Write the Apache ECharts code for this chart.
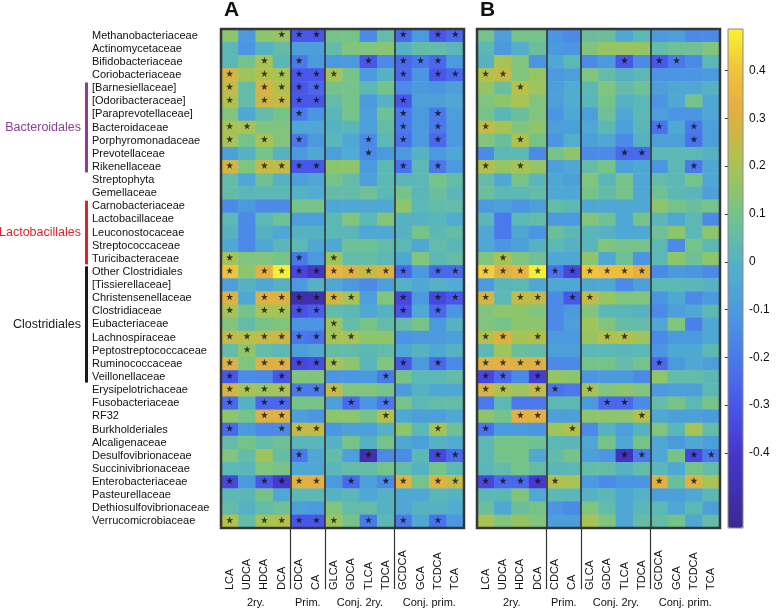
<!DOCTYPE html>
<html><head><meta charset="utf-8">
<script src="https://cdn.jsdelivr.net/npm/echarts@6/dist/echarts.min.js"></script>
<style>html,body{margin:0;padding:0;background:#fff}#c{width:777px;height:610px}</style>
</head><body><div id="c"></div>
<script>
const rowNames = ['Methanobacteriaceae','Actinomycetaceae','Bifidobacteriaceae','Coriobacteriaceae','[Barnesiellaceae]','[Odoribacteraceae]','[Paraprevotellaceae]','Bacteroidaceae','Porphyromonadaceae','Prevotellaceae','Rikenellaceae','Streptophyta','Gemellaceae','Carnobacteriaceae','Lactobacillaceae','Leuconostocaceae','Streptococcaceae','Turicibacteraceae','Other Clostridiales','[Tissierellaceae]','Christensenellaceae','Clostridiaceae','Eubacteriaceae','Lachnospiraceae','Peptostreptococcaceae','Ruminococcaceae','Veillonellaceae','Erysipelotrichaceae','Fusobacteriaceae','RF32','Burkholderiales','Alcaligenaceae','Desulfovibrionaceae','Succinivibrionaceae','Enterobacteriaceae','Pasteurellaceae','Dethiosulfovibrionaceae','Verrucomicrobiaceae'];
const colNames = ['LCA','UDCA','HDCA','DCA','CDCA','CA','GLCA','GDCA','TLCA','TDCA','GCDCA','GCA','TCDCA','TCA'];
const groupNames = ['2ry.','Prim.','Conj. 2ry.','Conj. prim.'];
const groupSizes = [4,2,4,4];
const panelTitles = ['A','B'];
const taxonGroups = ['Bacteroidales','Lactobacillales','Clostridiales'];
const taxonFirst = ['[Barnesiellaceae]','Carnobacteriaceae','Other Clostridiales'];
const taxonLast = ['Rikenellaceae','Turicibacteraceae','Veillonellaceae'];
const taxonColors = ['#8d3c97','#d8262f','#1a1a1a'];
const colorbarTicks = [-0.4,-0.3,-0.2,-0.1,0,0.1,0.2,0.3,0.4];
const valueMin = -0.557, valueMax = 0.487;

const valuesA = [
[0.15,-0.1,0.15,0.17,-0.3,-0.3,0.1,0.1,-0.15,0.05,-0.25,-0.1,-0.3,-0.25],
[0.03,-0.12,0,0.05,-0.08,-0.08,0.05,0.12,0.12,0.14,0,0.05,0.05,0.02],
[0.03,0.1,0.2,0.02,-0.2,-0.1,-0.1,-0.1,-0.3,-0.15,-0.25,-0.2,-0.25,-0.1],
[0.28,0.18,0.22,0.2,-0.3,-0.3,0.2,0.1,-0.1,0,-0.25,-0.12,-0.3,-0.25],
[0.25,0.05,0.28,0.22,-0.3,-0.25,0.1,0.1,0.03,0.1,-0.15,-0.1,-0.12,-0.08],
[0.22,0.05,0.27,0.25,-0.3,-0.3,0.05,0.1,-0.1,0,-0.3,-0.08,-0.08,-0.05],
[0.12,-0.05,0.05,0.1,-0.2,-0.12,0.02,0.1,-0.08,0.08,-0.2,-0.1,-0.2,-0.08],
[0.2,0.2,0.12,0.12,-0.05,-0.05,0,0.02,-0.08,0.05,-0.2,-0.1,-0.2,-0.1],
[0.2,0.1,0.2,0.12,-0.2,-0.1,0.02,-0.05,-0.15,0.03,-0.22,-0.1,-0.25,-0.1],
[-0.08,0,0.1,0,-0.1,-0.05,-0.08,-0.03,-0.15,-0.1,-0.1,0,-0.1,-0.05],
[0.28,0.12,0.25,0.25,-0.3,-0.3,0.15,0.15,-0.1,0.03,-0.22,0.03,-0.2,-0.1],
[0.05,-0.05,0.08,0,-0.08,-0.05,0.1,0.05,-0.08,0.03,0.02,0.03,0.1,0.05],
[0.05,0.02,0.03,0.03,0,-0.03,0.05,0.05,0.08,0.03,0.1,0.02,0.07,0.02],
[-0.15,-0.1,-0.15,-0.15,0.1,0.1,-0.05,-0.05,-0.05,-0.05,0.15,0.03,0.05,0.05],
[0.03,-0.15,0.03,0.08,-0.08,-0.08,0.03,0.12,0.03,0.13,0,0,0.02,-0.03],
[0,-0.15,0,-0.05,0,0,0.03,0.02,-0.05,-0.05,0,0.1,0.03,0.05],
[-0.05,-0.15,-0.05,0.02,0.03,-0.05,-0.05,0.08,0.08,0.05,0.03,-0.05,0.05,0.02],
[0.2,0.12,0.12,0.1,-0.2,-0.1,0.18,0.05,0.05,0.03,-0.05,0.12,0.03,0.05],
[0.4,0.15,0.32,0.48,-0.35,-0.42,0.35,0.3,0.25,0.3,-0.25,-0.1,-0.25,-0.25],
[-0.08,0,-0.05,0,-0.1,0,-0.05,-0.1,-0.15,-0.08,0,-0.05,0,-0.03],
[0.3,-0.05,0.3,0.3,-0.5,-0.48,0.28,0.2,-0.08,0.12,-0.35,-0.1,-0.35,-0.3],
[0.2,0.1,0.2,0.2,-0.32,-0.28,0.05,0.03,-0.05,0,-0.3,-0.05,-0.25,-0.12],
[0.12,0.05,0.1,0.12,-0.12,-0.12,0.18,0.05,0.1,0.05,0.05,0.1,-0.1,0],
[0.25,0.23,0.25,0.27,-0.2,-0.22,0.2,0.2,0.15,0.15,-0.12,-0.1,-0.1,-0.08],
[0.05,0.15,0.05,0.03,-0.08,-0.05,0.05,0.05,0.03,0.05,-0.05,0,-0.05,0],
[0.3,0.12,0.3,0.3,-0.35,-0.33,0.2,0.15,0.02,0.12,-0.3,-0.1,-0.25,-0.15],
[-0.3,-0.15,-0.15,-0.3,0.12,0.12,-0.12,-0.12,-0.1,-0.2,0.1,0.03,0.03,0.05],
[0.28,0.2,0.18,0.2,-0.2,-0.2,0.25,0.12,0.12,0.1,-0.1,0,-0.05,-0.05],
[-0.25,0,-0.25,-0.25,0.1,0.1,-0.08,-0.25,-0.12,-0.2,0.1,0.03,0.05,0.05],
[0.15,0.1,0.3,0.3,-0.08,-0.12,0.15,0.15,0.1,0.22,-0.05,-0.08,-0.08,-0.05],
[-0.25,-0.1,-0.15,-0.15,0.25,0.25,-0.12,-0.08,-0.08,0,0.15,0.03,0.2,0.08],
[0.05,0.1,0.05,0.08,0.02,0.02,0,0.1,0,0.1,-0.05,-0.08,0,-0.03],
[0.12,0.05,0.18,0.05,-0.2,-0.05,0.05,-0.08,-0.48,-0.15,-0.15,0.03,-0.35,-0.25],
[0.03,0.02,0.12,0.1,-0.05,-0.05,0.02,0.05,0.05,0.1,0.05,0,0.1,0.03],
[-0.35,-0.1,-0.3,-0.4,0.3,0.32,-0.1,-0.25,-0.08,-0.15,0.3,0.1,0.3,0.25],
[0.03,0.02,0.1,-0.05,0.03,0.03,0,0.02,-0.05,0,-0.05,-0.05,0.02,0],
[0.05,0,0.05,0.08,-0.08,-0.1,0.12,0.05,0.05,0,-0.05,0,0,-0.03],
[0.22,0.05,0.2,0.22,-0.3,-0.3,0.18,0.1,-0.2,0.03,-0.2,-0.05,-0.22,-0.1]
];
const valuesB = [
[0.1,-0.08,0.1,0.1,-0.12,-0.15,0.07,0.07,-0.05,0.03,-0.1,-0.08,-0.15,-0.15],
[0.03,-0.1,-0.02,0.07,-0.1,-0.12,0.12,0.17,0.17,0.17,0.05,0.08,0.08,0.12],
[0,0.2,0.12,-0.12,-0.05,0.03,-0.15,-0.1,-0.3,-0.15,-0.3,-0.2,-0.15,0.03],
[0.22,0.25,0.12,0.17,-0.1,-0.08,0.12,0.05,0,0.03,-0.12,-0.12,-0.12,-0.1],
[0.17,0.07,0.23,0.18,-0.08,-0.03,0.03,0.12,0.05,0.08,-0.08,-0.05,-0.05,0],
[0.12,0.15,0.2,0.12,-0.08,-0.03,0.02,0.1,0,0.03,-0.12,-0.05,0.1,-0.05],
[0.1,0.02,0.07,0.12,-0.12,-0.05,-0.08,0.08,-0.05,0.03,-0.08,-0.12,-0.12,-0.05],
[0.25,0.2,0.12,0.15,-0.08,-0.08,-0.05,0.03,-0.08,0.02,-0.22,-0.05,-0.2,-0.08],
[0.12,0.07,0.22,0.1,-0.12,-0.02,-0.08,-0.05,-0.15,0,-0.08,-0.08,-0.22,-0.08],
[-0.15,0.03,0.03,-0.15,0.1,0.15,-0.15,-0.15,-0.25,-0.25,0.03,0.03,0.03,0],
[0.22,0.17,0.2,0.17,-0.08,-0.05,0.05,0.1,-0.08,-0.05,-0.12,0.03,-0.2,-0.05],
[0.05,-0.05,0.1,0.02,-0.05,-0.08,0.12,0.02,0.1,-0.05,0.05,0.03,0.1,-0.05],
[0.07,0.03,0.03,0.05,-0.05,-0.05,0.1,0.05,0.1,-0.05,0.08,0.03,0.02,-0.08],
[-0.1,-0.08,-0.12,-0.08,0.05,0.03,-0.05,-0.05,-0.05,-0.05,0.15,0.1,0.07,0.1],
[0.02,-0.2,0.03,0.05,-0.1,-0.1,0.12,0.08,-0.05,0.1,0.02,-0.05,0.03,-0.15],
[-0.05,-0.2,-0.05,-0.12,0.07,0.03,0.02,0,-0.05,-0.05,0.08,0.15,0.03,0.15],
[-0.05,-0.12,-0.08,0,0.03,0,0.02,0.12,0.1,0.1,0.03,-0.15,0.1,0.03],
[0.12,0.2,0.12,0.08,-0.05,-0.05,0.15,-0.05,0.08,-0.12,0.03,0.15,0.08,0.15],
[0.42,0.3,0.35,0.48,-0.22,-0.35,0.4,0.38,0.38,0.32,-0.15,-0.1,-0.12,-0.15],
[-0.1,0.02,0.03,-0.05,-0.05,-0.05,-0.05,-0.05,-0.15,-0.08,0.03,0.03,0.02,0],
[0.28,0.03,0.25,0.25,-0.15,-0.3,0.25,0.17,0.12,0.12,-0.12,-0.05,-0.15,-0.1],
[0.12,0.15,0.15,0.12,-0.15,-0.1,0.12,0.03,0.02,0,-0.15,-0.08,-0.05,0.03],
[0.12,0.1,0.15,0.15,-0.15,-0.08,0.18,0.12,0.05,0.05,-0.05,0.12,-0.18,-0.05],
[0.22,0.3,0.2,0.22,-0.1,-0.1,0.17,0.22,0.22,0.18,-0.15,-0.1,-0.1,-0.05],
[0.03,0.18,0.07,0.05,-0.08,-0.08,0.03,0.03,0.02,0.03,-0.12,-0.05,-0.05,0.03],
[0.3,0.32,0.3,0.3,-0.15,-0.15,0.1,0.1,0.05,0.1,-0.25,-0.1,-0.05,-0.08],
[-0.35,-0.25,-0.15,-0.38,0.17,0.15,-0.12,-0.1,-0.1,-0.15,0.15,0.05,0.05,0.03],
[0.28,0.22,0.18,0.25,-0.22,-0.2,0.2,0.12,0.15,0.12,-0.1,-0.08,-0.08,0.03],
[-0.2,0.03,-0.2,-0.2,0.03,0.03,-0.1,-0.25,-0.25,-0.15,0.05,0.1,0.03,0.1],
[0.15,0.1,0.32,0.32,-0.08,-0.08,0.15,0.15,0.15,0.22,-0.05,-0.08,-0.08,-0.1],
[-0.22,-0.1,-0.1,-0.12,0.18,0.22,-0.15,0,-0.08,0,0.12,0.02,0.2,0.05],
[0.03,0.1,0.1,0.08,0.03,0.02,-0.05,0.1,-0.05,0.1,-0.05,-0.1,-0.05,-0.08],
[0.03,0.1,0.1,-0.05,0.05,0.1,-0.08,-0.12,-0.45,-0.2,-0.05,0.1,-0.35,-0.2],
[0.02,0.05,0.1,0.05,0.02,0.03,0.05,0.05,0,0.05,0.02,-0.05,0.1,0.05],
[-0.35,-0.25,-0.25,-0.4,0.22,0.2,-0.1,-0.15,-0.12,-0.12,0.3,0.07,0.3,0.2],
[0.03,0.03,0.12,-0.05,0.03,0.02,0,0.03,-0.05,0,-0.08,-0.08,-0.05,0.03],
[0.07,-0.05,0.07,0.1,-0.12,-0.15,0.12,0.05,-0.05,0.02,0.03,-0.05,0.03,-0.08],
[0.2,0.12,0.17,0.12,-0.08,-0.08,0.2,0.12,-0.05,0.05,0.05,0.1,-0.05,0.05]
];
// significant cells: column indices per row
const sigA = [
[3,4,5,10,12,13],[],[2,4,8,10,11,12],[0,2,3,4,5,6,10,12,13],[0,2,3,4,5],[0,2,3,4,5,10],[4,10,12],[0,1,10,12],[0,2,4,8,10,12],[8],
[0,2,3,4,5,10,12],[],[],[],[],[],[],[0,4,6],[0,2,3,4,5,6,7,8,9,10,12,13],[],
[0,2,3,4,5,6,7,10,12,13],[0,2,3,4,5,10,12],[6],[0,1,2,3,4,5,6,7],[1],[0,2,3,4,5,6,10,12],[0,3,9],[0,1,2,3,4,5,6],[0,2,3,7,9],[2,3,9],
[0,3,4,5,12],[],[4,8,12,13],[],[0,2,3,4,5,7,9,10,12,13],[],[],[0,2,3,4,5,6,8,10,12]
];
const sigB = [
[],[],[8,10,11],[0,1],[2],[],[],[0,10,12],[2,12],[8,9],
[0,2,12],[],[],[],[],[],[],[1],[0,1,2,3,4,5,6,7,8,9],[],
[0,2,3,5,6],[],[],[0,1,3,7,8],[],[0,1,2,3,10],[0,1,3],[0,1,3,4,6],[7,8],[2,3,9],
[0,5],[],[8,9,12,13],[],[0,1,2,3,4,10,12],[],[],[]
];

// colormap (parula-like, as in the picture)
const cmapStops = [
[-0.557,'#3b2b8f'],[-0.47,'#4131b5'],[-0.40,'#4637cd'],[-0.32,'#4850e6'],[-0.22,'#4a72ee'],
[-0.12,'#4b95e2'],[-0.03,'#50acd0'],[0.03,'#5cb8b4'],[0.10,'#76c38a'],[0.16,'#92c566'],
[0.22,'#b2c24c'],[0.28,'#d4b442'],[0.33,'#e9ae42'],[0.40,'#f1c33a'],[0.487,'#f8f42e']
];
function hex2rgb(h){return [1,3,5].map(i=>parseInt(h.substr(i,2),16));}
function buildPalette(n){
  const out=[];
  for(let k=0;k<n;k++){
    const v=valueMin+(valueMax-valueMin)*k/(n-1);
    let i=0; while(i<cmapStops.length-2 && v>cmapStops[i+1][0]) i++;
    const a=cmapStops[i], b=cmapStops[i+1];
    const t=Math.max(0,Math.min(1,(v-a[0])/(b[0]-a[0])));
    const ca=hex2rgb(a[1]), cb=hex2rgb(b[1]);
    const c=ca.map((x,j)=>Math.round(x+(cb[j]-x)*t));
    out.push('rgb('+c.join(',')+')');
  }
  return out;
}
const palette = buildPalette(120);

const L = {top:29, height:499, lefts:[221,477], width:243, cbLeft:728, cbWidth:15, labelX:92};
const FONT = 'Liberation Sans, Arial, Helvetica, sans-serif';

function heatData(vals){const d=[];vals.forEach((r,ri)=>r.forEach((v,ci)=>d.push([ci,ri,v])));return d;}
function starData(sig){const d=[];sig.forEach((r,ri)=>r.forEach(ci=>d.push([ci,ri])));return d;}

const bounds=[]; let acc=0; groupSizes.forEach((s,i)=>{ if(i>0) bounds.push(acc); acc+=s; });
const centers=[]; acc=0; groupSizes.forEach(s=>{centers.push(acc+s/2); acc+=s;});
const starPath='path://M50,0 L61,35 L98,35 L68,57 L79,91 L50,70 L21,91 L32,57 L2,35 L39,35 Z';

const grids=[], xAxes=[], yAxes=[], series=[];
[valuesA,valuesB].forEach((vals,p)=>{
  grids.push({left:L.lefts[p], top:L.top, width:L.width, height:L.height, show:true,
    borderColor:'#363636', borderWidth:2.5, backgroundColor:'rgba(0,0,0,0)', z:3});
  xAxes.push({type:'category', gridIndex:p, data:colNames, position:'bottom',
    axisLine:{show:false}, axisTick:{show:false}, splitLine:{show:false},
    axisLabel:{interval:0, rotate:90, align:'left', verticalAlign:'middle', margin:62, fontSize:11, color:'#111', fontFamily:FONT}});
  xAxes.push({type:'value', gridIndex:p, min:0, max:colNames.length, position:'bottom',
    axisLine:{show:false}, splitLine:{show:false},
    axisTick:{show:true, customValues:bounds, length:61, lineStyle:{color:'#333', width:1.2}},
    axisLabel:{customValues:centers, margin:69, fontSize:11, color:'#111', fontFamily:FONT,
      formatter:v=>{const i=centers.findIndex(c=>Math.abs(c-v)<1e-6);return i>=0?groupNames[i]:'';}}});
  yAxes.push({type:'category', gridIndex:p, data:rowNames, inverse:true,
    axisLine:{show:false}, axisTick:{show:false}, splitLine:{show:false},
    axisLabel:{show:p===0, interval:0, align:'left', margin:L.lefts[0]-L.labelX, fontSize:11, color:'#111', fontFamily:FONT}});
  series.push({type:'heatmap', xAxisIndex:2*p, yAxisIndex:p, data:heatData(vals), silent:true,
    itemStyle:{borderWidth:0}, emphasis:{disabled:true}, progressive:0});
  series.push({type:'scatter', xAxisIndex:2*p, yAxisIndex:p, data:starData(p===0?sigA:sigB), silent:true,
    symbol:starPath, symbolSize:7, symbolOffset:[0,-1.5], itemStyle:{color:'#111'}, z:5});
  series.push({type:'line', xAxisIndex:2*p+1, yAxisIndex:p, data:[], silent:true,
    markLine:{silent:true, symbol:['none','none'], label:{show:false}, animation:false,
      lineStyle:{color:'#333', width:1.6, type:'solid'}, data:bounds.map(b=>({xAxis:b}))}});
});
// colorbar axis
grids.push({left:L.cbLeft, top:L.top, width:L.cbWidth, height:L.height, show:true, borderColor:'#8a8a8a', borderWidth:1, backgroundColor:'rgba(0,0,0,0)', z:10});
xAxes.push({type:'value', gridIndex:2, show:false, min:0, max:1});
yAxes.push({type:'value', gridIndex:2, min:valueMin, max:valueMax, position:'right',
  axisLine:{show:false}, splitLine:{show:false},
  axisTick:{show:true, inside:true, length:3, customValues:colorbarTicks, lineStyle:{color:'#333'}},
  axisLabel:{customValues:colorbarTicks, margin:6, fontSize:12, color:'#111', fontFamily:FONT,
    formatter:v=>String(Math.round(v*10)/10)}});

const option = {
  animation:false,
  textStyle:{fontFamily:FONT},
  title: panelTitles.map((t,p)=>({text:t, left:L.lefts[p]+3, top:0, padding:0,
    textStyle:{fontSize:21, fontWeight:'bold', color:'#111', fontFamily:FONT}})),
  grid:grids, xAxis:xAxes, yAxis:yAxes, series:series,
  visualMap:{type:'continuous', min:valueMin, max:valueMax, seriesIndex:[0,3], calculable:false, hoverLink:false,
    orient:'vertical', left:L.cbLeft, top:L.top, itemWidth:L.cbWidth, itemHeight:L.height, padding:0,
    inRange:{color:palette}, text:null}
};
const chart = echarts.init(document.getElementById('c'), null, {renderer:'canvas'});
chart.setOption(option);

// taxonomic group brackets on the left (placed through the y axis scale)
const band = L.height/rowNames.length;
const gfx=[];
taxonGroups.forEach((g,i)=>{
  const y1 = chart.convertToPixel({yAxisIndex:0}, taxonFirst[i]) - band/2 + 1;
  const y2 = chart.convertToPixel({yAxisIndex:0}, taxonLast[i]) + band/2 - 1;
  gfx.push({type:'rect', shape:{x:L.labelX-7, y:y1, width:3, height:y2-y1}, style:{fill:taxonColors[i]}, silent:true});
  gfx.push({type:'text', x:L.labelX-11, y:(y1+y2)/2, silent:true,
    style:{text:g, fill:taxonColors[i], font:'12.5px '+FONT, textAlign:'right', textVerticalAlign:'middle'}});
});
chart.setOption({graphic:gfx});
</script></body></html>
